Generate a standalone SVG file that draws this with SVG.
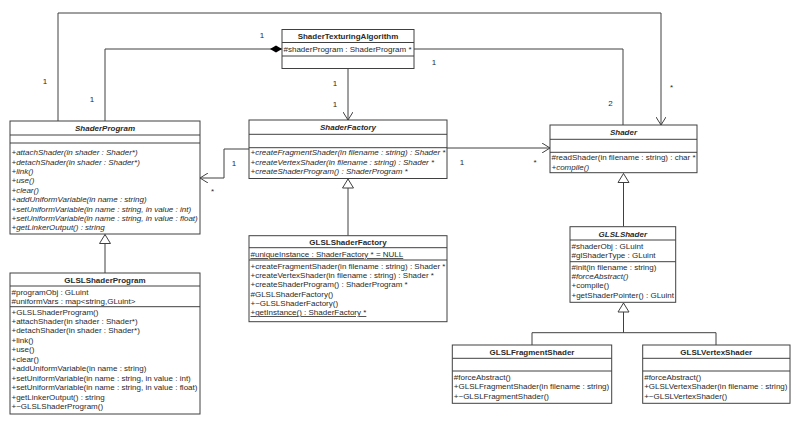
<svg xmlns="http://www.w3.org/2000/svg" width="800" height="428" viewBox="0 0 800 428">
<style>
text{font-family:"Liberation Sans",Arial,sans-serif;font-size:8px;fill:#2a2a2a}
.t{font-weight:bold;text-anchor:middle}
.i{font-style:italic}
.u{text-decoration:underline}
.box{fill:#fff;stroke:#404040;stroke-width:1}
.div{stroke:#404040;stroke-width:1}
.c{fill:none;stroke:#404040;stroke-width:1}
.lbl{text-anchor:middle}
</style>
<defs>
<marker id="open" viewBox="0 0 8 10" refX="8" refY="5" markerWidth="8" markerHeight="10" markerUnits="userSpaceOnUse" orient="auto">
<path d="M0,0 L8,5 L0,10" fill="none" stroke="#404040" stroke-width="1"/>
</marker>
<marker id="tri" viewBox="-1 -1 11 13" refX="9" refY="5.5" markerWidth="11" markerHeight="13" markerUnits="userSpaceOnUse" orient="auto">
<path d="M0,0 L9,5.5 L0,11 Z" fill="#fff" stroke="#404040" stroke-width="1"/>
</marker>
<marker id="dia" viewBox="0 0 12 8" refX="12" refY="4" markerWidth="12" markerHeight="8" markerUnits="userSpaceOnUse" orient="auto">
<path d="M0,4 L6,0.5 L12,4 L6,7.5 Z" fill="#000"/>
</marker>
</defs>
<rect width="800" height="428" fill="#fff"/>

<g id="connectors">
<polyline class="c" points="58,121 58,13 661,13 661,125" marker-end="url(#open)"/>
<polyline class="c" points="105,121 105,49 282,49" marker-end="url(#dia)"/>
<line class="c" x1="348" y1="68.5" x2="348" y2="120" marker-end="url(#open)"/>
<polyline class="c" points="414,49 623,49 623,125"/>
<polyline class="c" points="249,149 224,149 224,178 200,178" marker-end="url(#open)"/>
<line class="c" x1="447" y1="148" x2="550" y2="148" marker-end="url(#open)"/>
<line class="c" x1="348" y1="235.7" x2="348" y2="179" marker-end="url(#tri)"/>
<line class="c" x1="105" y1="273" x2="105" y2="234.5" marker-end="url(#tri)"/>
<line class="c" x1="623.5" y1="226.7" x2="623.5" y2="173.5" marker-end="url(#tri)"/>
<polyline class="c" points="532,345 532,332.7 716,332.7 716,345"/>
<line class="c" x1="623.5" y1="332.7" x2="623.5" y2="303" marker-end="url(#tri)"/>
<text class="lbl" x="262" y="38">1</text>
<text class="lbl" x="45" y="84">1</text>
<text class="lbl" x="92" y="102">1</text>
<text class="lbl" x="335" y="86">1</text>
<text class="lbl" x="335" y="107">1</text>
<text class="lbl" x="434" y="65">1</text>
<text class="lbl" x="610.5" y="106">2</text>
<text class="lbl" x="671.5" y="90">*</text>
<text class="lbl" x="234" y="166">1</text>
<text class="lbl" x="212.5" y="194">*</text>
<text class="lbl" x="462" y="165">1</text>
<text class="lbl" x="535" y="165">*</text>
</g>

<g id="ShaderTexturingAlgorithm">
<rect class="box" x="282" y="29.5" width="132" height="39"/>
<line class="div" x1="282" y1="42.5" x2="414" y2="42.5"/>
<line class="div" x1="282" y1="56" x2="414" y2="56"/>
<text class="t" x="348" y="38.5">ShaderTexturingAlgorithm</text>
<text x="283.5" y="52">#shaderProgram : ShaderProgram *</text>
</g>

<g id="ShaderProgram">
<rect class="box" x="10" y="121" width="190" height="113"/>
<line class="div" x1="10" y1="135" x2="200" y2="135"/>
<line class="div" x1="10" y1="143" x2="200" y2="143"/>
<text class="t i" x="105" y="131">ShaderProgram</text>
<g class="i">
<text x="11.5" y="155.2">+attachShader(in shader : Shader*)</text>
<text x="11.5" y="164.6">+detachShader(in shader : Shader*)</text>
<text x="11.5" y="174">+link()</text>
<text x="11.5" y="183.4">+use()</text>
<text x="11.5" y="192.8">+clear()</text>
<text x="11.5" y="202.2">+addUniformVariable(in name : string)</text>
<text x="11.5" y="211.6">+setUniformVariable(in name : string, in value : int)</text>
<text x="11.5" y="221">+setUniformVariable(in name : string, in value : float)</text>
<text x="11.5" y="230.4">+getLinkerOutput() : string</text>
</g>
</g>

<g id="ShaderFactory">
<rect class="box" x="249" y="120" width="198" height="58.5"/>
<line class="div" x1="249" y1="134.3" x2="447" y2="134.3"/>
<line class="div" x1="249" y1="147.7" x2="447" y2="147.7"/>
<text class="t i" x="348" y="130">ShaderFactory</text>
<g class="i">
<text x="250.5" y="155.2">+createFragmentShader(in filename : string) : Shader *</text>
<text x="250.5" y="164.7">+createVertexShader(in filename : string) : Shader *</text>
<text x="250.5" y="174.2">+createShaderProgram() : ShaderProgram *</text>
</g>
</g>

<g id="Shader">
<rect class="box" x="550" y="125" width="147" height="47.7"/>
<line class="div" x1="550" y1="139.3" x2="697" y2="139.3"/>
<line class="div" x1="550" y1="152.3" x2="697" y2="152.3"/>
<text class="t i" x="623.5" y="135">Shader</text>
<text x="551.5" y="160">#readShader(in filename : string) : char *</text>
<text class="i" x="551.5" y="169.5">+compile()</text>
</g>

<g id="GLSLShaderFactory">
<rect class="box" x="249" y="235.7" width="198" height="86"/>
<line class="div" x1="249" y1="247.7" x2="447" y2="247.7"/>
<line class="div" x1="249" y1="260" x2="447" y2="260"/>
<text class="t" x="348" y="244.5">GLSLShaderFactory</text>
<text class="u" x="250.5" y="257">#uniqueInstance : ShaderFactory * = NULL</text>
<text x="250.5" y="268.5">+createFragmentShader(in filename : string) : Shader *</text>
<text x="250.5" y="277.8">+createVertexShader(in filename : string) : Shader *</text>
<text x="250.5" y="287.1">+createShaderProgram() : ShaderProgram *</text>
<text x="250.5" y="296.5">#GLSLShaderFactory()</text>
<text x="250.5" y="305.8">+~GLSLShaderFactory()</text>
<text class="u" x="250.5" y="315.1">+getInstance() : ShaderFactory *</text>
</g>

<g id="GLSLShaderProgram">
<rect class="box" x="10" y="273" width="190" height="141"/>
<line class="div" x1="10" y1="286" x2="200" y2="286"/>
<line class="div" x1="10" y1="306.7" x2="200" y2="306.7"/>
<text class="t" x="105" y="282.7">GLSLShaderProgram</text>
<text x="11.5" y="295">#programObj : GLuint</text>
<text x="11.5" y="304.4">#uniformVars : map&lt;string,GLuint&gt;</text>
<text x="11.5" y="314.5">+GLSLShaderProgram()</text>
<text x="11.5" y="323.9">+attachShader(in shader : Shader*)</text>
<text x="11.5" y="333.4">+detachShader(in shader : Shader*)</text>
<text x="11.5" y="342.8">+link()</text>
<text x="11.5" y="352.3">+use()</text>
<text x="11.5" y="361.7">+clear()</text>
<text x="11.5" y="371.2">+addUniformVariable(in name : string)</text>
<text x="11.5" y="380.6">+setUniformVariable(in name : string, in value : int)</text>
<text x="11.5" y="390.1">+setUniformVariable(in name : string, in value : float)</text>
<text x="11.5" y="399.5">+getLinkerOutput() : string</text>
<text x="11.5" y="409">+~GLSLShaderProgram()</text>
</g>

<g id="GLSLShader">
<rect class="box" x="570" y="226.7" width="105.7" height="75.6"/>
<line class="div" x1="570" y1="240" x2="675.7" y2="240"/>
<line class="div" x1="570" y1="261.7" x2="675.7" y2="261.7"/>
<text class="t i" x="622.8" y="236.5">GLSLShader</text>
<text x="571.5" y="248.5">#shaderObj : GLuint</text>
<text x="571.5" y="258.3">#glShaderType : GLuint</text>
<text x="571.5" y="269.5">#init(in filename : string)</text>
<text class="i" x="571.5" y="278.9">#forceAbstract()</text>
<text x="571.5" y="288.4">+compile()</text>
<text x="571.5" y="297.8">+getShaderPointer() : GLuint</text>
</g>

<g id="GLSLFragmentShader">
<rect class="box" x="452.3" y="345" width="159.4" height="58.3"/>
<line class="div" x1="452.3" y1="358.3" x2="611.7" y2="358.3"/>
<line class="div" x1="452.3" y1="371" x2="611.7" y2="371"/>
<text class="t" x="532" y="354.5">GLSLFragmentShader</text>
<text x="453.8" y="379.5">#forceAbstract()</text>
<text x="453.8" y="389">+GLSLFragmentShader(in filename : string)</text>
<text x="453.8" y="398.5">+~GLSLFragmentShader()</text>
</g>

<g id="GLSLVertexShader">
<rect class="box" x="642.7" y="345" width="147.3" height="58.3"/>
<line class="div" x1="642.7" y1="358.3" x2="790" y2="358.3"/>
<line class="div" x1="642.7" y1="371" x2="790" y2="371"/>
<text class="t" x="716.3" y="354.5">GLSLVertexShader</text>
<text x="644.2" y="379.5">#forceAbstract()</text>
<text x="644.2" y="389">+GLSLVertexShader(in filename : string)</text>
<text x="644.2" y="398.5">+~GLSLVertexShader()</text>
</g>
</svg>
